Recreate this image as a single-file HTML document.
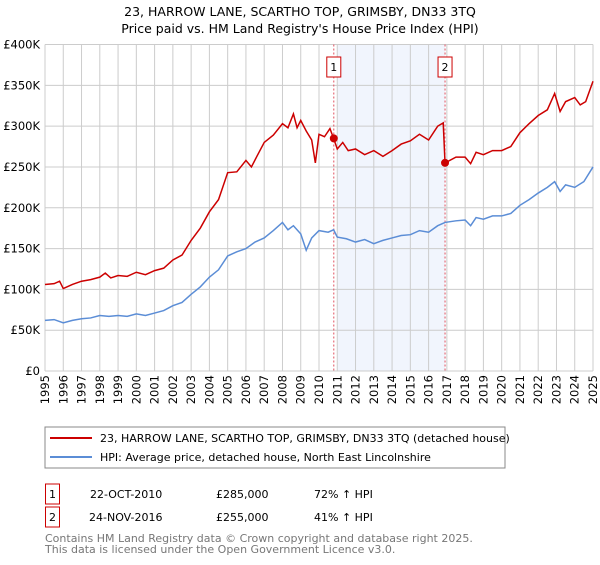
<!DOCTYPE html>
<html><head><meta charset="utf-8"><style>
body{margin:0;background:#fff;font-family:"Liberation Sans","DejaVu Sans",sans-serif;}
svg text{font-family:"DejaVu Sans","Liberation Sans",sans-serif;}
</style></head><body>
<svg width="600" height="560" viewBox="0 0 600 560" id="c">
<text x="300" y="16" text-anchor="middle" font-size="12.5">23, HARROW LANE, SCARTHO TOP, GRIMSBY, DN33 3TQ</text>
<text x="300" y="33" text-anchor="middle" font-size="12.5">Price paid vs. HM Land Registry's House Price Index (HPI)</text>
<g id="grid"></g><g id="series"></g>
<rect x="45" y="427" width="460" height="41" fill="#fff" stroke="#888"/>
<line x1="50" y1="438" x2="92" y2="438" stroke="#cc0000" stroke-width="2"/>
<text x="100" y="442" font-size="11">23, HARROW LANE, SCARTHO TOP, GRIMSBY, DN33 3TQ (detached house)</text>
<line x1="50" y1="457" x2="92" y2="457" stroke="#5b8dd6" stroke-width="2"/>
<text x="100" y="461" font-size="11">HPI: Average price, detached house, North East Lincolnshire</text>
<g>
<rect x="45.5" y="484" width="14" height="20" fill="none" stroke="#cc0000"/>
<text x="52.5" y="498" text-anchor="middle" font-size="11">1</text>
<text x="90" y="498" font-size="11">22-OCT-2010</text><text x="216" y="498" font-size="11">£285,000</text><text x="314" y="498" font-size="11">72% ↑ HPI</text></g>
<g>
<rect x="45.5" y="507" width="14" height="20" fill="none" stroke="#cc0000"/>
<text x="52.5" y="521" text-anchor="middle" font-size="11">2</text>
<text x="89" y="521" font-size="11">24-NOV-2016</text><text x="216" y="521" font-size="11">£255,000</text><text x="314" y="521" font-size="11">41% ↑ HPI</text></g>
<text x="45" y="542" font-size="11" fill="#777">Contains HM Land Registry data © Crown copyright and database right 2025.</text>
<text x="45" y="553" font-size="11" fill="#777">This data is licensed under the Open Government Licence v3.0.</text>
</svg>
<script>
const yTicks=[0,50000,100000,150000,200000,250000,300000,350000,400000];
const yTickLabels=["£0","£50K","£100K","£150K","£200K","£250K","£300K","£350K","£400K"];
const xYears=[1995,1996,1997,1998,1999,2000,2001,2002,2003,2004,2005,2006,2007,2008,2009,2010,2011,2012,2013,2014,2015,2016,2017,2018,2019,2020,2021,2022,2023,2024,2025];
const hpiT=[1995,1995.5,1996,1996.5,1997,1997.5,1998,1998.5,1999,1999.5,2000,2000.5,2001,2001.5,2002,2002.5,2003,2003.5,2004,2004.5,2005,2005.5,2006,2006.5,2007,2007.5,2008,2008.3,2008.6,2009,2009.3,2009.6,2010,2010.5,2010.8,2011,2011.5,2012,2012.5,2013,2013.5,2014,2014.5,2015,2015.5,2016,2016.5,2016.9,2017.5,2018,2018.3,2018.6,2019,2019.5,2020,2020.5,2021,2021.5,2022,2022.5,2022.9,2023.2,2023.5,2024,2024.5,2025];
const hpiV=[62,63,59,62,64,65,68,67,68,67,70,68,71,74,80,84,94,103,115,124,141,146,150,158,163,172,182,173,178,168,148,163,172,170,173,164,162,158,161,156,160,163,166,167,172,170,178,182,184,185,178,188,186,190,190,193,203,210,218,225,232,220,228,225,232,250];
const priceT=[1995,1995.5,1995.8,1996,1996.5,1997,1997.5,1998,1998.3,1998.6,1999,1999.5,2000,2000.5,2001,2001.5,2002,2002.5,2003,2003.5,2004,2004.5,2005,2005.5,2006,2006.3,2006.6,2007,2007.5,2008,2008.3,2008.6,2008.8,2009,2009.3,2009.6,2009.8,2010,2010.3,2010.6,2010.8,2011,2011.3,2011.6,2012,2012.5,2013,2013.5,2014,2014.5,2015,2015.5,2016,2016.5,2016.8,2016.9,2017.5,2018,2018.3,2018.6,2019,2019.5,2020,2020.5,2021,2021.5,2022,2022.5,2022.9,2023.2,2023.5,2024,2024.3,2024.6,2025];
const priceV=[106,107,110,101,106,110,112,115,120,114,117,116,121,118,123,126,136,142,160,175,195,210,243,244,258,250,263,280,289,303,298,315,298,307,294,283,255,290,287,297,285,272,280,270,272,265,270,263,270,278,282,290,283,300,304,255,262,262,254,268,265,270,270,275,292,303,313,320,340,318,330,335,326,330,355];
const saleT=[2010.81,2016.9];
const saleV=[285,255];
const saleLabels=["1","2"];
const NS="http://www.w3.org/2000/svg";
const X=t=>45+(t-1995)*(548/30);
const Y=v=>371-v*(326.5/400000);
function mk(tag,attrs,parent){const e=document.createElementNS(NS,tag);for(const k in attrs)e.setAttribute(k,attrs[k]);parent.appendChild(e);return e;}
const g=document.getElementById('grid'),s=document.getElementById('series');
const shade=mk('rect',{x:X(saleT[0])+4,y:Y(400000),width:X(saleT[1])-X(saleT[0])-4,height:Y(0)-Y(400000),fill:'#eef3fc',opacity:0.8},g);


yTicks.forEach((v,i)=>{
const l=mk('line',{x1:45,x2:593,y1:Y(v),y2:Y(v),stroke:'#ccc'},g);


const t=mk('text',{x:40,y:Y(v)+4,'text-anchor':'end','font-size':11.5},g);t.textContent=yTickLabels[i];


});
xYears.forEach(yr=>{
const l=mk('line',{x1:X(yr),x2:X(yr),y1:Y(400000),y2:Y(0),stroke:'#ccc'},g);


const t=mk('text',{x:0,y:0,'text-anchor':'end','font-size':11.5,transform:`translate(${X(yr)+4},375) rotate(-90)`},g);t.textContent=yr;


});
saleT.forEach((t,i)=>{
const l=mk('line',{x1:X(t),x2:X(t),y1:Y(400000),y2:Y(0),stroke:'#e05060','stroke-dasharray':'2,2'},g);


const r=mk('rect',{x:X(t)-7,y:57,width:14,height:20,fill:'#fff',stroke:'#cc0000'},g);


const tx=mk('text',{x:X(t),y:71,'text-anchor':'middle','font-size':11},g);tx.textContent=saleLabels[i];


});
const hp=mk('polyline',{points:hpiT.map((t,i)=>X(t)+','+Y(hpiV[i]*1000)).join(' '),fill:'none',stroke:'#5b8dd6','stroke-width':1.5},s);


const pp=mk('polyline',{points:priceT.map((t,i)=>X(t)+','+Y(priceV[i]*1000)).join(' '),fill:'none',stroke:'#cc0000','stroke-width':1.5},s);


saleT.forEach((t,i)=>{
const c=mk('circle',{cx:X(t),cy:Y(saleV[i]*1000),r:4,fill:'#cc0000'},s);


});
</script>
</body></html>
